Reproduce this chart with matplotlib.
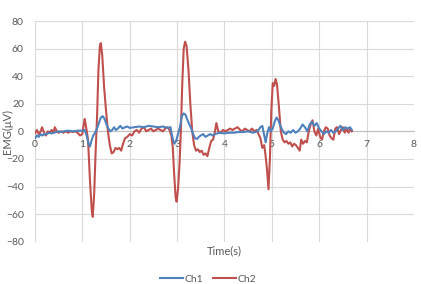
import matplotlib
matplotlib.use("Agg")
import matplotlib.pyplot as plt

plt.rcParams['font.family'] = ['Lato', 'DejaVu Sans']

# Ch1 (blue) samples: time (s), EMG (uV)
ch1_t = [0.00, 0.04, 0.08, 0.12, 0.16, 0.20, 0.25, 0.30, 0.35, 0.40, 0.45, 0.50, 0.55, 0.60,
         0.70, 0.80, 0.90, 1.00, 1.05, 1.09, 1.13, 1.16, 1.19, 1.23, 1.27, 1.31, 1.35, 1.39,
         1.43, 1.47, 1.51, 1.55, 1.59, 1.63, 1.67, 1.71, 1.75, 1.80, 1.85, 1.90, 1.95, 2.00,
         2.10, 2.20, 2.30, 2.40, 2.50, 2.60, 2.70, 2.80, 2.86, 2.90, 2.94, 2.98, 3.02, 3.06,
         3.10, 3.14, 3.18, 3.22, 3.26, 3.30, 3.34, 3.38, 3.42, 3.46, 3.50, 3.55, 3.60, 3.65,
         3.70, 3.75, 3.80, 3.90, 4.00, 4.10, 4.20, 4.30, 4.40, 4.50, 4.60, 4.70, 4.76, 4.80,
         4.84, 4.87, 4.90, 4.94, 4.98, 5.02, 5.06, 5.10, 5.14, 5.18, 5.22, 5.26, 5.30, 5.35,
         5.40, 5.45, 5.50, 5.55, 5.60, 5.65, 5.70, 5.75, 5.80, 5.85, 5.90, 5.95, 6.00, 6.05,
         6.10, 6.15, 6.20, 6.25, 6.30, 6.35, 6.40, 6.45, 6.50, 6.55, 6.60, 6.65, 6.69]
ch1_v = [-5, -3, -4, -2, -3, -2, -2, -1, -1.5, -1, -0.5, 0, -0.5, 0,
         0.5, 0, 0.5, 0.5, 1, -3, -9, -11, -7, -3, -1, 2, 6, 10,
         11, 9, 5, 2, 0, 1, 3, 1, 2, 4, 2, 3, 3.5, 2.5,
         3, 3.5, 3, 4, 3.5, 3, 3.5, 2.5, 3, -4, -9, -7, -2, 3,
         11, 13, 12, 8, 5, 2, -2, -5, -5.5, -4, -3, -2, -4, -3,
         -2, -3, -2, -1, -1.5, -1, -1, -0.5, -0.5, 0, -1, 0, 3, 4,
         -3, -8, -2, 3, 0, 2, 7, 10, 8, 4, 1, -1, -2, 0,
         -1, 1, -1, 0, 2, 5, 3, 0, 5, 7, 4, 6, 2, 0,
         -2, 0, -1, 1, -1, 0, 2, 4, 1, 3, 2, 3, 1]

# Ch2 (red) samples
ch2_t = [0.00, 0.04, 0.08, 0.12, 0.15, 0.19, 0.23, 0.27, 0.31, 0.35, 0.39, 0.42, 0.46, 0.50,
         0.55, 0.60, 0.65, 0.70, 0.75, 0.80, 0.85, 0.90, 0.95, 1.00, 1.03, 1.05, 1.08, 1.12,
         1.16, 1.20, 1.22, 1.25, 1.28, 1.31, 1.34, 1.37, 1.39, 1.42, 1.46, 1.50, 1.54, 1.58,
         1.62, 1.66, 1.70, 1.74, 1.78, 1.82, 1.86, 1.90, 1.95, 2.00, 2.05, 2.10, 2.15, 2.20,
         2.25, 2.30, 2.35, 2.40, 2.45, 2.50, 2.55, 2.60, 2.65, 2.70, 2.75, 2.80, 2.84, 2.88,
         2.91, 2.94, 2.97, 2.99, 3.02, 3.05, 3.08, 3.11, 3.14, 3.17, 3.20, 3.24, 3.28, 3.32,
         3.36, 3.40, 3.44, 3.48, 3.52, 3.56, 3.60, 3.64, 3.68, 3.72, 3.76, 3.80, 3.83, 3.87,
         3.92, 3.97, 4.02, 4.07, 4.12, 4.17, 4.22, 4.28, 4.33, 4.38, 4.43, 4.48, 4.53, 4.58,
         4.63, 4.68, 4.72, 4.76, 4.80, 4.84, 4.87, 4.90, 4.93, 4.96, 4.99, 5.02, 5.05, 5.08,
         5.11, 5.15, 5.19, 5.23, 5.27, 5.31, 5.35, 5.39, 5.43, 5.47, 5.51, 5.55, 5.59, 5.62,
         5.66, 5.70, 5.74, 5.78, 5.82, 5.86, 5.90, 5.94, 5.98, 6.02, 6.06, 6.10, 6.14, 6.18,
         6.22, 6.26, 6.30, 6.34, 6.38, 6.42, 6.46, 6.50, 6.54, 6.58, 6.62, 6.66, 6.69]
ch2_v = [-1.5, 1, -2, 0, 3, -1, -3, 0, -1, 1, -1, 3, 0, -1,
         0, -1, 0, -1, 0, -0.5, 0, -1, -3, -2, 5, 9, 3, -6,
         -35, -58, -62, -45, -15, 10, 45, 62, 64, 55, 32, 15, 0, -10,
         -16, -15, -12, -13, -12, -14, -9, -5, -4, -2, -3, 0, 1, -1,
         2, 3, 0, 1, 2, 0, 1, 2, 1, 0, 2, 3, 1, -3,
         -12, -32, -48, -51, -42, -25, 0, 35, 60, 65, 62, 45, 20, 0,
         -10, -14, -13, -15, -14, -17, -16, -18, -12, -7, -6, 0, 6, 0,
         -1, 1, 0, 1, 2, 1, 2, 3, 1, 0, 2, 1, 0, 2,
         0, 1, -2, -5, -12, -10, -18, -28, -42, -20, 15, 35, 33, 38,
         34, 18, 0, -6, -8, -7, -9, -8, -11, -9, -10, -12, -14, -6,
         -9, -7, -8, 0, 5, 8, 0, -3, 2, -4, -6, 0, 3, 2,
         -3, -5, -6, 2, 3, -2, 1, 3, -1, 2, -1, 2, 0]

x_ticks = [0, 1, 2, 3, 4, 5, 6, 7, 8]
y_ticks = [-80, -60, -40, -20, 0, 20, 40, 60, 80]

fig = plt.figure(figsize=(4.21, 2.84), dpi=100)
ax = fig.add_axes([0.0831, 0.149, 0.9, 0.777])

txt = '#595959'
grid = '#D9D9D9'

ax.plot(ch1_t, ch1_v, color='#4F81BD', lw=1.5, label='Ch1', zorder=3)
ax.plot(ch2_t, ch2_v, color='#C0504D', lw=1.5, label='Ch2', zorder=2)

ax.set_xlim(0, 8)
ax.set_ylim(-80, 80)
ax.set_xticks(x_ticks)
ax.set_yticks(y_ticks)
ax.grid(True, color=grid, lw=0.8, zorder=0)
ax.set_axisbelow(True)

for s in ['top', 'right', 'left']:
    ax.spines[s].set_visible(False)
ax.spines['bottom'].set_position(('data', 0))
ax.spines['bottom'].set_color('#BFBFBF')
ax.spines['bottom'].set_linewidth(0.8)
ax.spines['bottom'].set_zorder(1)

ax.tick_params(axis='both', length=0, labelsize=7.5, labelcolor=txt)
ax.tick_params(axis='x', pad=6)
ax.tick_params(axis='y', pad=8)

ax.set_xlabel('Time(s)', fontsize=8, color=txt)
ax.xaxis.set_label_coords(0.5, -0.015)
ax.set_ylabel('EMG(μV)', fontsize=8, color=txt)
ax.yaxis.set_label_coords(-0.058, 0.5)

fig.legend(loc='center', bbox_to_anchor=(208 / 421, 1 - 279 / 284), ncol=2, frameon=False,
           fontsize=7.5, labelcolor=txt, handlelength=2.2, handletextpad=0.2, columnspacing=0.9)

fig.savefig('out.png', dpi=100)
